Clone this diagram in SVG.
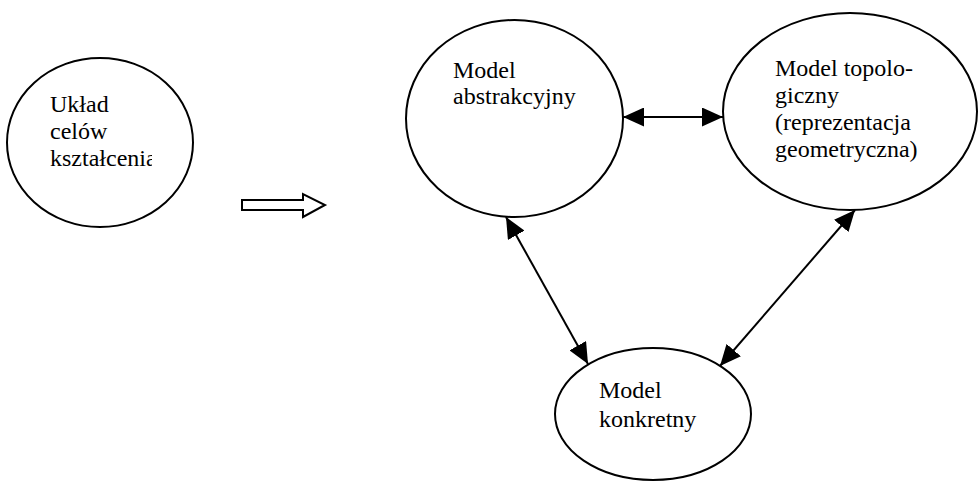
<svg xmlns="http://www.w3.org/2000/svg" width="978" height="482" viewBox="0 0 978 482">
  <style>
    .node { fill: #ffffff; stroke: #000000; stroke-width: 2; }
    .label { font-family: 'Liberation Serif', serif; font-size: 24px; fill: #000000; }
    .conn { stroke: #000000; stroke-width: 2; fill: none; }
    .hollow { fill: #ffffff; stroke: #000000; stroke-width: 2; stroke-linejoin: miter; }
  </style>
  <defs>
    <marker id="head" viewBox="0 0 21 19" refX="21" refY="9.5" markerWidth="21" markerHeight="19" markerUnits="userSpaceOnUse" orient="auto-start-reverse">
      <path d="M0,0 L21,9.5 L0,19 Z" fill="#000000"/>
    </marker>
    <clipPath id="clipLeft">
      <rect x="0" y="0" width="152" height="482"/>
    </clipPath>
  </defs>
  <rect x="0" y="0" width="978" height="482" fill="#ffffff"/>

  <g id="uklad-celow">
    <ellipse class="node" cx="100" cy="142.5" rx="93" ry="84.5"/>
    <text class="label" x="50" y="112">Układ</text>
    <text class="label" x="50" y="139">celów</text>
    <text class="label" x="50" y="166" clip-path="url(#clipLeft)">kształcenia</text>
  </g>

  <g id="transition-arrow">
    <polygon class="hollow" points="242,200 303,200 303,194 325,205 303,217 303,210 242,210"/>
  </g>

  <g id="model-abstrakcyjny">
    <ellipse class="node" cx="514.5" cy="118.5" rx="108.5" ry="98.5"/>
    <text class="label" x="453" y="78">Model</text>
    <text class="label" x="453" y="104">abstrakcyjny</text>
  </g>

  <g id="model-topologiczny">
    <ellipse class="node" cx="850" cy="111.5" rx="127" ry="98.5"/>
    <text class="label" x="775" y="76">Model topolo-</text>
    <text class="label" x="775" y="103">giczny</text>
    <text class="label" x="775" y="130">(reprezentacja</text>
    <text class="label" x="775" y="157">geometryczna)</text>
  </g>

  <g id="model-konkretny">
    <ellipse class="node" cx="653" cy="414" rx="98" ry="66"/>
    <text class="label" x="599" y="398">Model</text>
    <text class="label" x="599" y="427">konkretny</text>
  </g>

  <g id="connectors">
    <line class="conn" x1="623" y1="117" x2="723" y2="117" marker-start="url(#head)" marker-end="url(#head)"/>
    <line class="conn" x1="506" y1="217" x2="588" y2="364" marker-start="url(#head)" marker-end="url(#head)"/>
    <line class="conn" x1="855" y1="210" x2="720" y2="366" marker-start="url(#head)" marker-end="url(#head)"/>
  </g>
</svg>
